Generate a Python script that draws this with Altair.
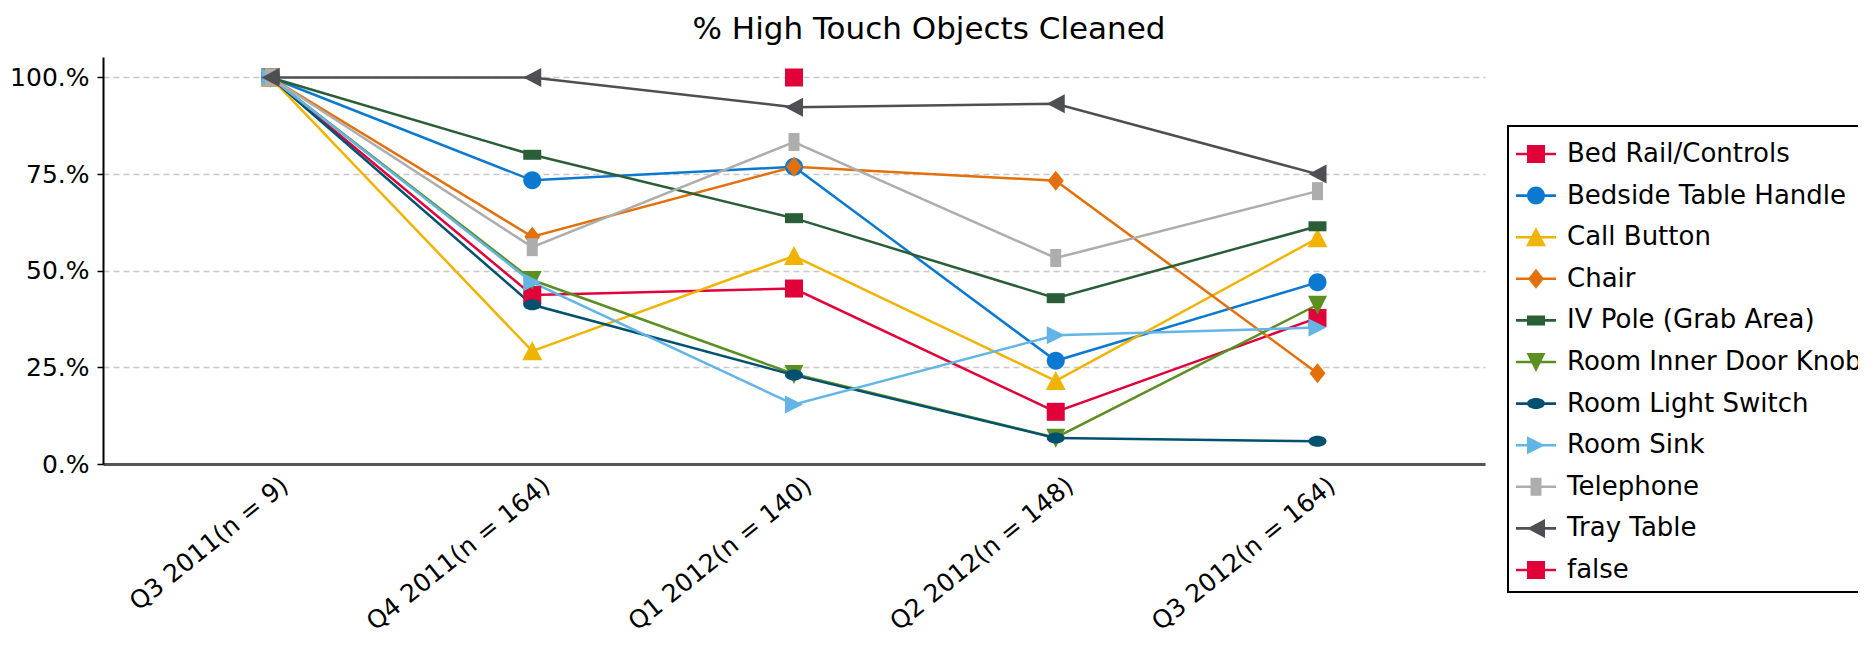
import altair as alt
import pandas as pd

# ---------------- data ----------------
quarters = [
    "Q3 2011(n = 9)",
    "Q4 2011(n = 164)",
    "Q1 2012(n = 140)",
    "Q2 2012(n = 148)",
    "Q3 2012(n = 164)",
]
objects = [
    "Bed Rail/Controls",
    "Bedside Table Handle",
    "Call Button",
    "Chair",
    "IV Pole (Grab Area)",
    "Room Inner Door Knob",
    "Room Light Switch",
    "Room Sink",
    "Telephone",
    "Tray Table",
    "false",
]
bed_rail = [100, 43.7, 45.4, 13.5, 37.8]
bedside_handle = [100, 73.4, 76.9, 26.7, 47.0]
call_button = [100, 29.2, 53.8, 21.5, 58.4]
chair = [100, 58.8, 76.9, 73.3, 23.5]
iv_pole = [100, 80.0, 63.6, 42.9, 61.5]
door_knob = [100, 47.6, 23.3, 6.8, 41.2]
light_switch = [100, 41.2, 23.0, 6.7, 5.9]
room_sink = [100, 47.0, 15.4, 33.3, 35.3]
telephone = [100, 56.1, 83.3, 53.3, 70.6]
tray_table = [100, 100, 92.3, 93.2, 75.0]
false_series = [None, None, 100, None, None]

all_values = [bed_rail, bedside_handle, call_button, chair, iv_pole, door_knob,
              light_switch, room_sink, telephone, tray_table, false_series]

rows = []
for obj, vals in zip(objects, all_values):
    for qi, (q, v) in enumerate(zip(quarters, vals)):
        if v is None:
            continue
        rows.append({"quarter": q, "qi": qi, "object": obj, "pct": v / 100.0})
df = pd.DataFrame(rows)

# ---------------- styles ----------------
FONT = "DejaVu Sans"
colors = ["#e10039", "#0b79d0", "#f0b400", "#e3700a", "#2a5e37", "#5b8f22",
          "#00506f", "#63b5e5", "#adadad", "#4e4f53", "#e10039"]

# plot markers (size 400 -> unit = 10px)
marker_paths = [
    "M-0.9,-0.9H0.9V0.9H-0.9Z",
    "M-0.9,0A0.9,0.9,0,1,1,0.9,0A0.9,0.9,0,1,1,-0.9,0Z",
    "M0,-1L1,0.9L-1,0.9Z",
    "M0,-1L0.8,0L0,1L-0.8,0Z",
    "M-0.9,-0.5H0.9V0.5H-0.9Z",
    "M-0.95,-0.9L0.95,-0.9L0,1Z",
    "M-0.9,0A0.9,0.55,0,1,1,0.9,0A0.9,0.55,0,1,1,-0.9,0Z",
    "M-0.9,-0.9L0.9,0L-0.9,0.9Z",
    "M-0.55,-0.9H0.55V0.9H-0.55Z",
    "M0.9,-0.95L0.9,0.95L-0.9,0Z",
    "M-0.9,-0.9H0.9V0.9H-0.9Z",
]
# legend symbols (size 1600 -> unit = 20px): line + marker
LINE = "M-1,-0.065H1V0.065H-1Z"
legend_markers = [
    "M-0.45,-0.45H0.45V0.45H-0.45Z",
    "M-0.45,0A0.45,0.45,0,1,1,0.45,0A0.45,0.45,0,1,1,-0.45,0Z",
    "M0,-0.5L0.5,0.45L-0.5,0.45Z",
    "M0,-0.5L0.4,0L0,0.5L-0.4,0Z",
    "M-0.45,-0.25H0.45V0.25H-0.45Z",
    "M-0.475,-0.45L0.475,-0.45L0,0.5Z",
    "M-0.45,0A0.45,0.275,0,1,1,0.45,0A0.45,0.275,0,1,1,-0.45,0Z",
    "M-0.45,-0.45L0.45,0L-0.45,0.45Z",
    "M-0.275,-0.45H0.275V0.45H-0.275Z",
    "M0.45,-0.475L0.45,0.475L-0.45,0Z",
    "M-0.45,-0.45H0.45V0.45H-0.45Z",
]
legend_paths = [LINE + m for m in legend_markers]

x_enc = alt.X(
    "quarter:O",
    sort=quarters,
    scale=alt.Scale(type="point", padding=0.64),
    axis=alt.Axis(
        title=None, labelAngle=-39, labelAlign="right", labelBaseline="middle",
        labelPadding=18, labelOffset=14, labelFontSize=25, labelFont=FONT,
        labelColor="black", ticks=False, domainColor="#555555", domainWidth=3,
        grid=False, labelLimit=400,
    ),
)
y_enc = alt.Y(
    "pct:Q",
    scale=alt.Scale(domain=[0, 1.053], nice=False, zero=True),
    axis=alt.Axis(
        title=None, values=[0, 0.25, 0.5, 0.75, 1.0],
        labelExpr="format(datum.value*100, 'd') + '.%'",
        labelFont=FONT, labelFontSize=25, labelColor="black", labelPadding=8,
        domainColor="black", domainWidth=2, tickColor="black", tickSize=6,
        tickWidth=1.5, grid=True, gridColor="#c8c8c8", gridDash=[6, 4],
        gridWidth=1.5,
    ),
)

color_scale = alt.Scale(domain=objects, range=colors)

base = alt.Chart(df)

lines = base.mark_line(strokeWidth=2.5).encode(
    x=x_enc, y=y_enc,
    color=alt.Color("object:N", scale=color_scale, legend=None),
    order=alt.Order("qi:Q"),
)

points = base.mark_point(filled=True, size=400, opacity=1, strokeWidth=0).encode(
    x=x_enc, y=y_enc,
    color=alt.Color("object:N", scale=color_scale, legend=None),
    shape=alt.Shape("object:N", scale=alt.Scale(domain=objects, range=marker_paths), legend=None),
)

legend_layer = base.transform_filter("datum.pct < 0").mark_point(
    filled=True, opacity=1, strokeWidth=0
).encode(
    x=x_enc, y=y_enc,
    color=alt.Color("object:N", scale=color_scale, legend=alt.Legend(title=None)),
    shape=alt.Shape("object:N", scale=alt.Scale(domain=objects, range=legend_paths),
                    legend=alt.Legend(title=None)),
)

chart = alt.layer(lines, points, legend_layer).resolve_scale(
    shape="independent", color="independent"
).properties(
    width=1382,
    height=407,
    autosize=alt.AutoSizeParams(type="none"),
    padding={"left": 95, "top": 49, "right": 373, "bottom": 177},
    title=alt.TitleParams(
        "% High Touch Objects Cleaned", font=FONT, fontSize=31,
        fontWeight="normal", color="black", anchor="middle", dx=135,
        baseline="alphabetic", offset=-13,
    ),
).configure_view(
    stroke=None
).configure_legend(
    orient="none", legendX=1405, legendY=69, labelFont=FONT, labelFontSize=26,
    labelColor="black", labelLimit=600, symbolSize=1600, symbolStrokeWidth=0,
    rowPadding=8.6, labelOffset=11, padding=8, strokeColor="black",
    strokeWidth=2, fillColor="white",
)

chart.save("out.html", embed_options={"renderer": "svg", "actions": False})
